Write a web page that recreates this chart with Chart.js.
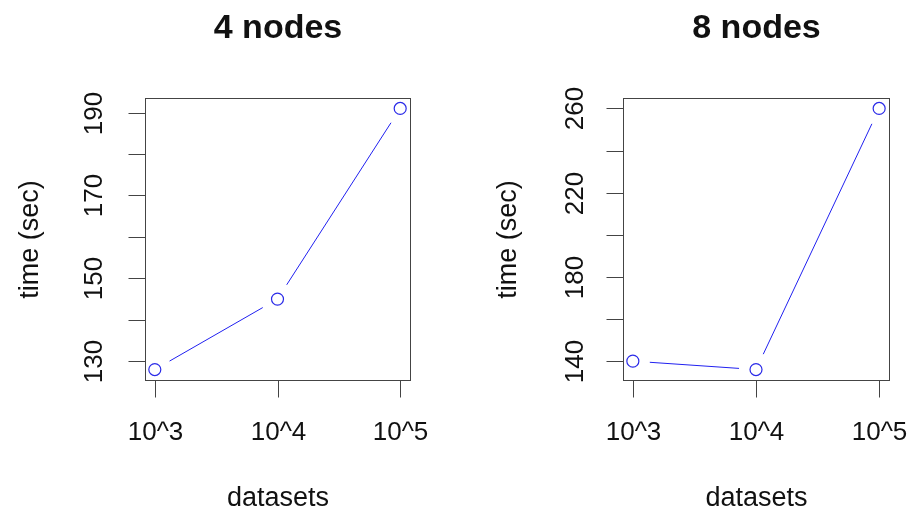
<!DOCTYPE html>
<html>
<head>
<meta charset="utf-8">
<script src="https://cdn.jsdelivr.net/npm/chart.js@4/dist/chart.umd.min.js"></script>
<style>
  html, body { margin: 0; padding: 0; background: #fff; }
  #wrap { position: relative; width: 915px; height: 519px; overflow: hidden; }
  canvas { position: absolute; top: 0; }
</style>
</head>
<body>
<div id="wrap">
  <canvas id="nodes4" width="458" height="519" style="left:0"></canvas>
  <canvas id="nodes8" width="458" height="519" style="left:457px"></canvas>
</div>
<script>
// dataset sizes on the x axis
var sizes = ['10^3', '10^4', '10^5'];
var sizePos = [1, 2, 3];

// run times in seconds
var times4 = [128, 145, 191];
var times8 = [140, 136, 260];

// y axis ticks and which of them carry a label
var yTicks4 = [130, 140, 150, 160, 170, 180, 190];
var yLabels4 = [130, 150, 170, 190];
var yTicks8 = [140, 160, 180, 200, 220, 240, 260];
var yLabels8 = [140, 180, 220, 260];

var FONT = "'Liberation Sans', Arial, Helvetica, sans-serif";
var INK = '#111';
var FRAME = '#444';

// base R style range: data range stretched 4% each side
function padRange(vals) {
  var lo = Math.min.apply(null, vals), hi = Math.max.apply(null, vals);
  var d = (hi - lo) * 0.04;
  return [lo - d, hi + d];
}

var rPanel = {
  id: 'rPanel',
  beforeDatasetsDraw: function(chart) {
    // type="b" lines: segments stop short of each point
    var pts = chart.getDatasetMeta(0).data;
    var gap = 17;
    var ctx = chart.ctx;
    ctx.save();
    ctx.strokeStyle = '#2020f0';
    ctx.lineWidth = 1;
    for (var i = 0; i < pts.length - 1; i++) {
      var a = pts[i], b = pts[i + 1];
      var dx = b.x - a.x, dy = b.y - a.y;
      var len = Math.sqrt(dx * dx + dy * dy);
      if (len <= gap * 2) continue;
      var ux = dx / len, uy = dy / len;
      ctx.beginPath();
      ctx.moveTo(a.x + ux * gap, a.y + uy * gap);
      ctx.lineTo(b.x - ux * gap, b.y - uy * gap);
      ctx.stroke();
    }
    ctx.restore();
  },
  afterDraw: function(chart, args, o) {
    var ctx = chart.ctx;
    var area = chart.chartArea;
    var xs = chart.scales.x, ys = chart.scales.y;
    var L = Math.round(area.left) + 0.5, R = Math.round(area.right) + 0.5;
    var T = Math.round(area.top) + 0.5, B = Math.round(area.bottom) + 0.5;
    var tick = 17;
    ctx.save();
    ctx.strokeStyle = FRAME;
    ctx.lineWidth = 1;
    ctx.strokeRect(L, T, R - L, B - T);

    // x ticks and labels
    ctx.fillStyle = INK;
    ctx.font = '26px ' + FONT;
    ctx.textAlign = 'center';
    ctx.textBaseline = 'middle';
    sizePos.forEach(function(v, i) {
      var x = Math.round(xs.getPixelForValue(v)) + 0.5;
      ctx.beginPath();
      ctx.moveTo(x, B);
      ctx.lineTo(x, B + tick);
      ctx.stroke();
      ctx.fillText(sizes[i], x, B + 52);
    });

    // y ticks, labels written along the axis
    o.yTicks.forEach(function(v) {
      var y = Math.round(ys.getPixelForValue(v)) + 0.5;
      ctx.beginPath();
      ctx.moveTo(L, y);
      ctx.lineTo(L - tick, y);
      ctx.stroke();
      if (o.yLabels.indexOf(v) >= 0) {
        ctx.save();
        ctx.translate(L - o.labelGap, y);
        ctx.rotate(-Math.PI / 2);
        ctx.fillText(String(v), 0, 0);
        ctx.restore();
      }
    });

    // axis titles
    ctx.font = '27px ' + FONT;
    ctx.fillText('datasets', (L + R) / 2, B + 118);
    ctx.save();
    ctx.translate(L - 115, (T + B) / 2);
    ctx.rotate(-Math.PI / 2);
    ctx.fillText('time (sec)', 0, 0);
    ctx.restore();

    // main title
    ctx.font = 'bold 34px ' + FONT;
    ctx.textBaseline = 'alphabetic';
    ctx.fillText(o.title, (L + R) / 2, 38);
    ctx.restore();
  }
};

function makePanel(id, title, times, yTicks, yLabels, pad, labelGap) {
  var yr = padRange(times);
  var pts = times.map(function(t, i) { return { x: sizePos[i], y: t }; });
  return new Chart(document.getElementById(id).getContext('2d'), {
    type: 'scatter',
    data: {
      datasets: [{
        data: pts,
        showLine: false,
        pointStyle: 'circle',
        pointRadius: 6,
        pointHoverRadius: 6,
        pointBorderWidth: 1.2,
        pointBorderColor: '#2a2ae8',
        pointBackgroundColor: 'rgba(0,0,0,0)'
      }]
    },
    options: {
      responsive: false,
      animation: false,
      events: [],
      layout: { padding: pad },
      plugins: {
        legend: { display: false },
        tooltip: { enabled: false },
        rPanel: { title: title, yTicks: yTicks, yLabels: yLabels, labelGap: labelGap }
      },
      scales: {
        x: { type: 'linear', min: 0.92, max: 3.08, display: false },
        y: { type: 'linear', min: yr[0], max: yr[1], display: false }
      }
    },
    plugins: [rPanel]
  });
}

makePanel('nodes4', '4 nodes', times4, yTicks4, yLabels4,
  { left: 145, right: 48, top: 98, bottom: 139 }, 51);
makePanel('nodes8', '8 nodes', times8, yTicks8, yLabels8,
  { left: 166, right: 26, top: 98, bottom: 139 }, 48);
</script>
</body>
</html>
